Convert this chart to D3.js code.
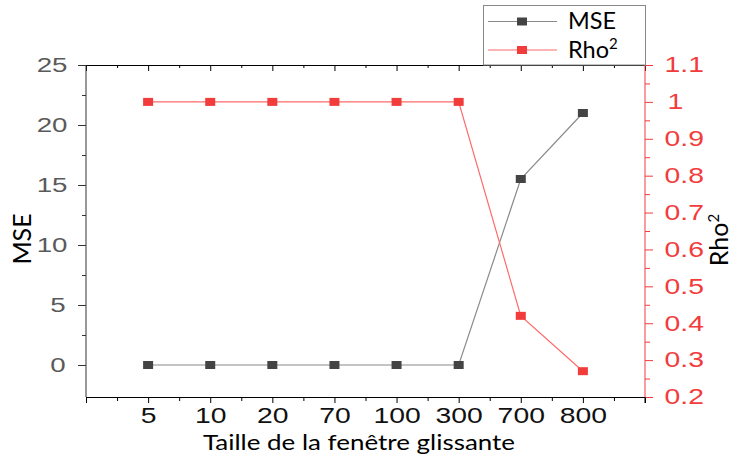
<!DOCTYPE html>
<html>
<head>
<meta charset="utf-8">
<script src="https://cdn.jsdelivr.net/npm/d3@7/dist/d3.min.js"></script>
<style>
  html, body { margin: 0; padding: 0; background: #fff; }
  svg { display: block; }
  .stretch { transform-box: fill-box; transform-origin: center; transform: scaleX(1.32); }
</style>
</head>
<body>
<svg id="chart" width="737" height="457"></svg>
<script>
// ---- data ----
const categories = ["5", "10", "20", "70", "100", "300", "700", "800"];
const mseValues = [0, 0, 0, 0, 0, 0, 15.5, 21];
const rho2Values = [1, 1, 1, 1, 1, 1, 0.42, 0.27];
const mseTicks = [0, 5, 10, 15, 20, 25];
const rhoTicks = [0.2, 0.3, 0.4, 0.5, 0.6, 0.7, 0.8, 0.9, 1, 1.1];

(function () {
// ---- layout ----
const pL = 86, pR = 645, pT = 65, pB = 397;
const RED = "#f23c3c";
const svg = d3.select("#chart");

const x = d3.scaleLinear().domain([0, categories.length + 1]).range([pL, pR]);
const yL = d3.scaleLinear().domain([-2.667, 25]).range([pB, pT]);
const yR = d3.scaleLinear().domain([0.2, 1.1]).range([pB, pT]);

const majorX = d3.range(0, categories.length + 2);
const minorX = d3.range(0.5, categories.length + 1, 1);

// top axis (inward ticks)
svg.append("g").attr("transform", `translate(0,${pT})`)
  .call(d3.axisBottom(x).tickValues(majorX).tickSize(6).tickFormat(""))
  .call(g => g.select(".domain").attr("stroke", "#000"));
svg.append("g").attr("transform", `translate(0,${pT})`)
  .call(d3.axisBottom(x).tickValues(minorX).tickSize(3).tickFormat(""))
  .call(g => g.select(".domain").remove());

// bottom axis
const bAxis = svg.append("g").attr("transform", `translate(0,${pB})`)
  .call(d3.axisBottom(x).tickValues(majorX).tickSize(6).tickPadding(5)
    .tickFormat(i => (i >= 1 && i <= categories.length) ? categories[i - 1] : ""));
bAxis.select(".domain").attr("stroke", "#000");
bAxis.selectAll("line").attr("stroke", "#000");
bAxis.selectAll("text").attr("class", "stretch")
  .attr("font-family", "Liberation Sans, Arial, sans-serif").attr("font-size", 21.5).attr("fill", "#111");
svg.append("g").attr("transform", `translate(0,${pB})`)
  .call(d3.axisBottom(x).tickValues(minorX).tickSize(4).tickFormat(""))
  .call(g => g.select(".domain").remove());

// left axis
const minorL = mseTicks.slice(0, -1).map(v => v + 2.5);
const lAxis = svg.append("g").attr("transform", `translate(${pL},0)`)
  .call(d3.axisLeft(yL).tickValues(mseTicks).tickSize(8).tickPadding(9));
lAxis.select(".domain").attr("d", `M0,${pT}V${pB}`).attr("stroke", "#333");
lAxis.selectAll("line").attr("stroke", "#333");
lAxis.selectAll("text").attr("class", "stretch")
  .attr("font-family", "Liberation Sans, Arial, sans-serif").attr("font-size", 21).attr("fill", "#5a5a5a")
  .attr("dx", "-0.25em");
svg.append("g").attr("transform", `translate(${pL},0)`)
  .call(d3.axisLeft(yL).tickValues(minorL).tickSize(4).tickFormat(""))
  .call(g => g.select(".domain").remove())
  .selectAll("line").attr("stroke", "#333");

// right axis
const minorR = rhoTicks.slice(0, -1).map(v => v + 0.05);
const rAxis = svg.append("g").attr("transform", `translate(${pR},0)`)
  .call(d3.axisRight(yR).tickValues(rhoTicks).tickSize(8).tickPadding(11)
    .tickFormat(d => d3.format("~g")(+d.toFixed(2))));
rAxis.select(".domain").attr("d", `M0,${pT}V${pB}`).attr("stroke", RED);
rAxis.selectAll("line").attr("stroke", RED);
rAxis.selectAll("text").attr("class", "stretch")
  .attr("font-family", "Liberation Sans, Arial, sans-serif").attr("font-size", 21.5).attr("fill", RED)
  .attr("dx", "0.25em");
svg.append("g").attr("transform", `translate(${pR},0)`)
  .call(d3.axisRight(yR).tickValues(minorR).tickSize(5).tickFormat(""))
  .call(g => g.select(".domain").remove())
  .selectAll("line").attr("stroke", RED);
svg.append("line").attr("x1", pR).attr("x2", pR).attr("y1", pB).attr("y2", pB + 6).attr("stroke", "#000");

// ---- series ----
const idx = categories.map((c, i) => i + 1);
const lineMse = d3.line().x((d, i) => x(idx[i])).y(d => yL(d));
const lineRho = d3.line().x((d, i) => x(idx[i])).y(d => yR(d));

svg.append("path").datum(mseValues).attr("d", lineMse)
  .attr("fill", "none").attr("stroke", "#8a8a8a").attr("stroke-width", 1.2);
svg.append("path").datum(rho2Values).attr("d", lineRho)
  .attr("fill", "none").attr("stroke", "#ff6a6a").attr("stroke-width", 1.2);

const mw = 10, mh = 8;
svg.append("g").selectAll("rect").data(mseValues).join("rect")
  .attr("x", (d, i) => x(idx[i]) - mw / 2).attr("y", d => yL(d) - mh / 2)
  .attr("width", mw).attr("height", mh).attr("fill", "#444");
svg.append("g").selectAll("rect").data(rho2Values).join("rect")
  .attr("x", (d, i) => x(idx[i]) - mw / 2).attr("y", d => yR(d) - mh / 2)
  .attr("width", mw).attr("height", mh).attr("fill", RED);

// ---- axis titles ----
svg.append("text").attr("x", 203).attr("y", 450)
  .attr("font-family", "Lato, sans-serif").attr("font-size", 22).attr("fill", "#000")
  .attr("textLength", 312).attr("lengthAdjust", "spacingAndGlyphs")
  .text("Taille de la fenêtre glissante");

svg.append("text").attr("transform", "translate(31,239) rotate(-90)")
  .attr("text-anchor", "middle")
  .attr("font-family", "Lato, sans-serif").attr("font-size", 25).attr("fill", "#000")
  .text("MSE");

const rt = svg.append("text").attr("transform", "translate(728,240) rotate(-90)")
  .attr("text-anchor", "middle")
  .attr("font-family", "Lato, sans-serif").attr("font-size", 25).attr("fill", "#000");
rt.append("tspan").text("Rho");
rt.append("tspan").attr("dy", -9).attr("font-size", 15).text("2");

// ---- legend ----
const lg = svg.append("g");
lg.append("rect").attr("x", 483.5).attr("y", 5.5).attr("width", 162).attr("height", 59.5)
  .attr("fill", "#fff").attr("stroke", "#888");
const legendItems = [
  { name: "MSE", color: "#8a8a8a", mk: "#444", y: 21.5, w: 48 },
  { name: "Rho", color: "#ff6a6a", mk: RED, y: 50, w: 41 }
];
legendItems.forEach(it => {
  lg.append("line").attr("x1", 488).attr("x2", 557).attr("y1", it.y).attr("y2", it.y)
    .attr("stroke", it.color).attr("stroke-width", 1.2);
  lg.append("rect").attr("x", 522 - mw / 2).attr("y", it.y - mh / 2).attr("width", mw).attr("height", mh)
    .attr("fill", it.mk);
  const t = lg.append("text").attr("x", 568).attr("y", it.y + 7.5)
    .attr("font-family", "Lato, sans-serif").attr("font-size", 23).attr("fill", "#000");
  t.append("tspan").attr("textLength", it.w).attr("lengthAdjust", "spacingAndGlyphs").text(it.name);
  if (it.name === "Rho") t.append("tspan").attr("dy", -9).attr("font-size", 15).text("2");
});
})();
</script>
</body>
</html>
